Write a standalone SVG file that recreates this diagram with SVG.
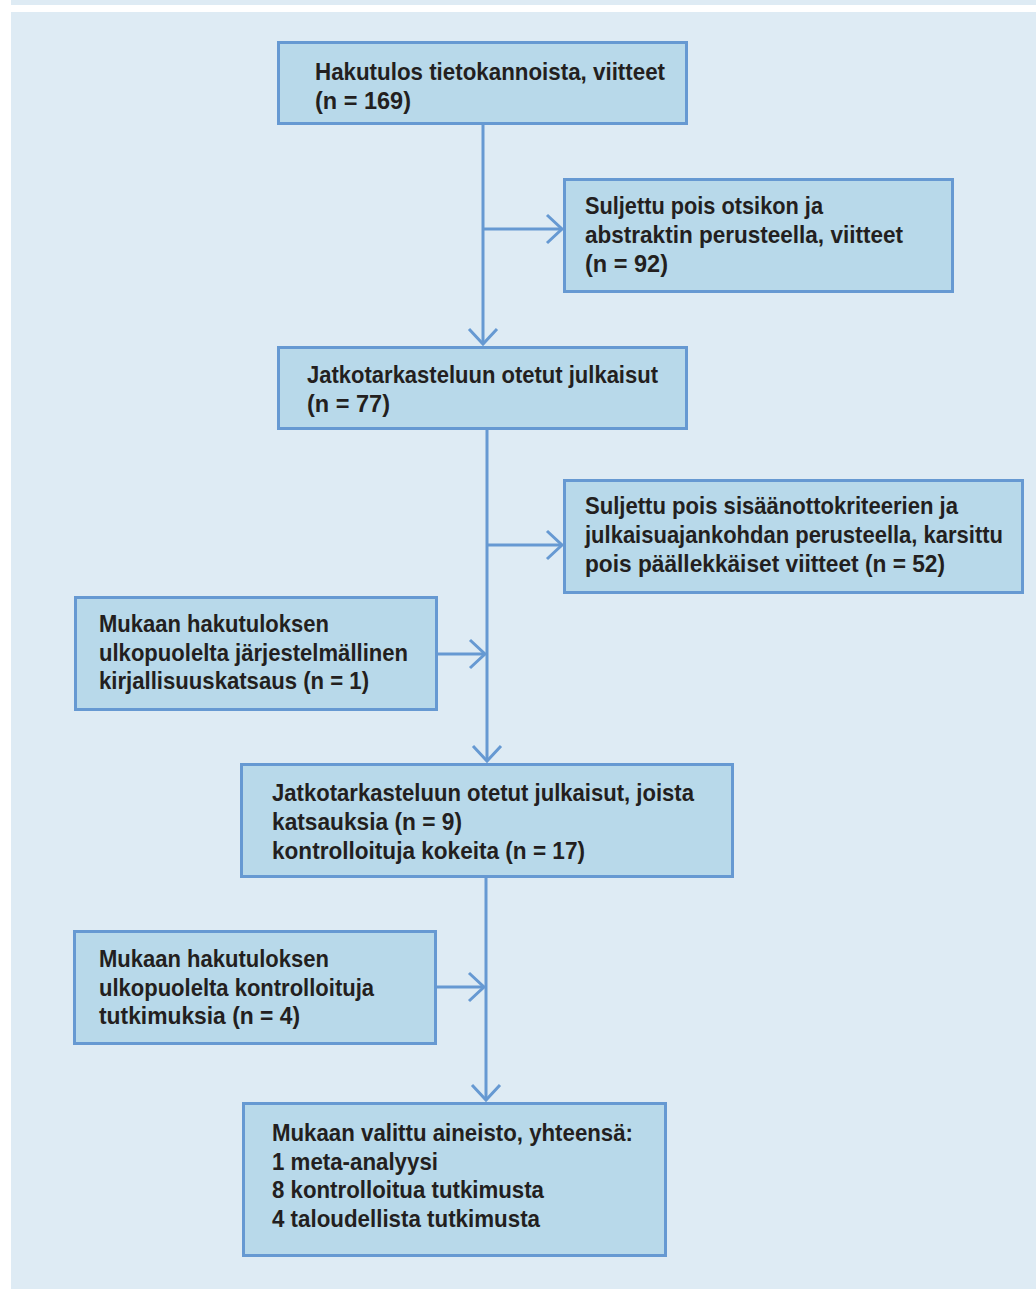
<svg xmlns="http://www.w3.org/2000/svg" width="1036" height="1289" viewBox="0 0 1036 1289">
<style>
.box{fill:#b8d9ea;stroke:#6699d2;stroke-width:3}
.t{font-family:"Liberation Sans Narrow","Liberation Sans",Arial,sans-serif;font-weight:bold;font-size:24px;fill:#231f20}
.c{fill:none;stroke:#6699d2;stroke-width:3}
</style>
<defs>
<marker id="arr" markerUnits="userSpaceOnUse" markerWidth="40" markerHeight="40" refX="0" refY="0" viewBox="-20 -20 40 40" orient="auto" overflow="visible">
<path d="M-15,-14 L0,0 L-15,14" fill="none" stroke="#6699d2" stroke-width="3"/>
</marker>
</defs>
<rect x="0" y="0" width="1036" height="1289" fill="#ffffff"/>
<rect x="11" y="0" width="1025" height="5" fill="#deebf4"/>
<rect x="11" y="12" width="1025" height="1277" fill="#deebf4"/>
<g id="connectors">
<path class="c" d="M483,124 V344" marker-end="url(#arr)"/>
<path class="c" d="M483,229 H562" marker-end="url(#arr)"/>
<path class="c" d="M487,429 V761" marker-end="url(#arr)"/>
<path class="c" d="M487,545 H562" marker-end="url(#arr)"/>
<path class="c" d="M437,654 H485" marker-end="url(#arr)"/>
<path class="c" d="M486,877 V1100" marker-end="url(#arr)"/>
<path class="c" d="M436,987 H484" marker-end="url(#arr)"/>
</g>
<g id="n1">
<rect class="box" x="278.5" y="42.5" width="408" height="81"/>
<text class="t" x="315" y="80" textLength="350" lengthAdjust="spacingAndGlyphs">Hakutulos tietokannoista, viitteet</text>
<text class="t" x="315" y="109" textLength="96" lengthAdjust="spacingAndGlyphs">(n = 169)</text>
</g>
<g id="n2">
<rect class="box" x="564.5" y="179.5" width="388" height="112"/>
<text class="t" x="585" y="214" textLength="238" lengthAdjust="spacingAndGlyphs">Suljettu pois otsikon ja</text>
<text class="t" x="585" y="243" textLength="318" lengthAdjust="spacingAndGlyphs">abstraktin perusteella, viitteet</text>
<text class="t" x="585" y="272" textLength="83" lengthAdjust="spacingAndGlyphs">(n = 92)</text>
</g>
<g id="n3">
<rect class="box" x="278.5" y="347.5" width="408" height="81"/>
<text class="t" x="307" y="383" textLength="351" lengthAdjust="spacingAndGlyphs">Jatkotarkasteluun otetut julkaisut</text>
<text class="t" x="307" y="412" textLength="83" lengthAdjust="spacingAndGlyphs">(n = 77)</text>
</g>
<g id="n4">
<rect class="box" x="564.5" y="480.5" width="458" height="112"/>
<text class="t" x="585" y="514" textLength="373" lengthAdjust="spacingAndGlyphs">Suljettu pois sisäänottokriteerien ja</text>
<text class="t" x="585" y="543" textLength="418" lengthAdjust="spacingAndGlyphs">julkaisuajankohdan perusteella, karsittu</text>
<text class="t" x="585" y="572" textLength="360" lengthAdjust="spacingAndGlyphs">pois päällekkäiset viitteet (n = 52)</text>
</g>
<g id="n5">
<rect class="box" x="75.5" y="597.5" width="361" height="112"/>
<text class="t" x="99" y="632" textLength="230" lengthAdjust="spacingAndGlyphs">Mukaan hakutuloksen</text>
<text class="t" x="99" y="661" textLength="309" lengthAdjust="spacingAndGlyphs">ulkopuolelta järjestelmällinen</text>
<text class="t" x="99" y="689" textLength="270" lengthAdjust="spacingAndGlyphs">kirjallisuuskatsaus (n = 1)</text>
</g>
<g id="n6">
<rect class="box" x="241.5" y="764.5" width="491" height="112"/>
<text class="t" x="272" y="801" textLength="422" lengthAdjust="spacingAndGlyphs">Jatkotarkasteluun otetut julkaisut, joista</text>
<text class="t" x="272" y="830" textLength="190" lengthAdjust="spacingAndGlyphs">katsauksia (n = 9)</text>
<text class="t" x="272" y="859" textLength="313" lengthAdjust="spacingAndGlyphs">kontrolloituja kokeita (n = 17)</text>
</g>
<g id="n7">
<rect class="box" x="74.5" y="931.5" width="361" height="112"/>
<text class="t" x="99" y="967" textLength="230" lengthAdjust="spacingAndGlyphs">Mukaan hakutuloksen</text>
<text class="t" x="99" y="996" textLength="275" lengthAdjust="spacingAndGlyphs">ulkopuolelta kontrolloituja</text>
<text class="t" x="99" y="1024" textLength="201" lengthAdjust="spacingAndGlyphs">tutkimuksia (n = 4)</text>
</g>
<g id="n8">
<rect class="box" x="243.5" y="1103.5" width="422" height="152"/>
<text class="t" x="272" y="1141" textLength="361" lengthAdjust="spacingAndGlyphs">Mukaan valittu aineisto, yhteensä:</text>
<text class="t" x="272" y="1170" textLength="166" lengthAdjust="spacingAndGlyphs">1 meta-analyysi</text>
<text class="t" x="272" y="1198" textLength="272" lengthAdjust="spacingAndGlyphs">8 kontrolloitua tutkimusta</text>
<text class="t" x="272" y="1227" textLength="268" lengthAdjust="spacingAndGlyphs">4 taloudellista tutkimusta</text>
</g>
</svg>
